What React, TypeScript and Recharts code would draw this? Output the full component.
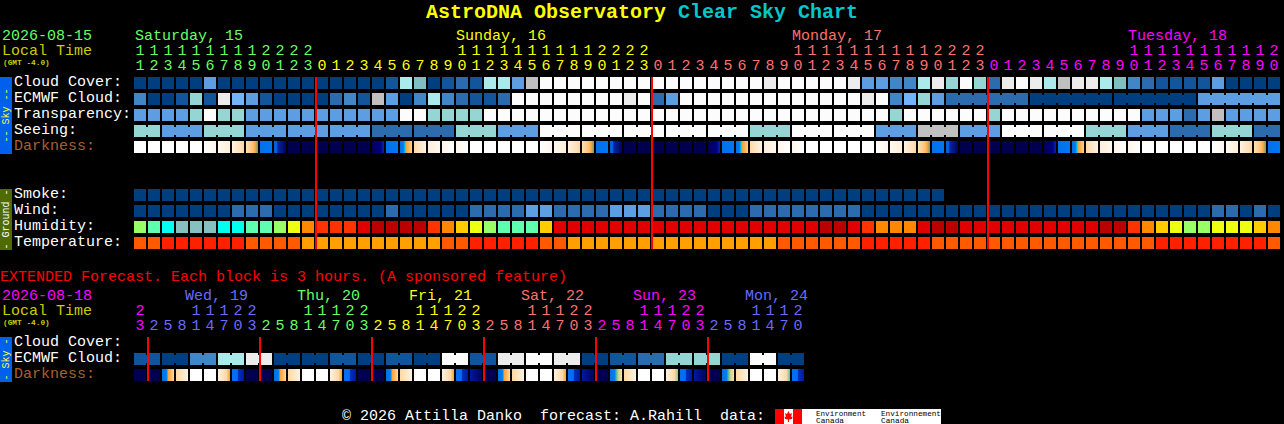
import { BarChart, Bar, XAxis, YAxis, ReferenceLine } from 'recharts'

const FONT = '"Liberation Mono", monospace'

const DAY = {
  green: '#66ff66',
  yellow: '#ffff00',
  salmon: '#ff7070',
  magenta: '#ff00ff',
  blue: '#6a6aff',
}

// ---- hourly block ----
const hourLabels = [
  11, 12, 13, 14, 15, 16, 17, 18, 19, 20, 21, 22, 23,
  0, 1, 2, 3, 4, 5, 6, 7, 8, 9, 10, 11, 12, 13, 14, 15, 16, 17, 18, 19, 20, 21, 22, 23,
  0, 1, 2, 3, 4, 5, 6, 7, 8, 9, 10, 11, 12, 13, 14, 15, 16, 17, 18, 19, 20, 21, 22, 23,
  0, 1, 2, 3, 4, 5, 6, 7, 8, 9, 10, 11, 12, 13, 14, 15, 16, 17, 18, 19, 20,
]
const hourDayStarts = [0, 13, 37, 61]
const hourDayColors = [DAY.green, DAY.yellow, DAY.salmon, DAY.magenta]
const midnightCols = [13, 37, 61]

// sky levels index SKY_COLORS
const cloudCover = [
  0, 0, 0, 0, 0, 4, 0, 0, 0, 0, 0, 0, 0, 0, 0, 0, 0, 0, 1, 8, 6, 0, 1, 2, 1, 8, 8, 4, 9,
  11, 11, 11, 11, 11, 11, 11, 11, 11, 11, 11, 11, 11, 11, 11, 11, 10, 11, 11, 11, 11, 11, 10,
  4, 4, 3, 3, 8, 10, 7, 11, 7, 2, 10, 11, 10, 8, 9, 10, 10, 8, 6, 3, 2, 1, 1, 1, 1, 4, 0, 0, 0, 0,
]
const ecmwfCloud = [
  3, 0, 0, 1, 7, 1, 10, 5, 4, 1, 0, 0, 0, 0, 2, 3, 1, 9, 4, 0, 3, 8, 3, 2, 1, 1, 2,
  11, 11, 11, 11, 11, 11, 11, 11, 10, 11, 2, 4,
  11, 11, 11, 11, 11, 11, 11, 11, 11, 11, 11, 11, 11, 10, 11, 3, 5, 7, 4,
  2, 2, 2, 2, 2, 2, 0, 0, 0, 0, 0, 0, 0, 0, 0, 0, 0, 0, 4, 4, 4, 4, 4, 4,
]
const transparency = [
  4, 4, 4, 4, 7, 11, 7, 7, 4, 4, 4, 4, 4, 4, 4, 4, 4, 4, 4, 11, 11, 7, 7, 7, 7,
  11, 11, 11, 11, 11, 11, 11, 11, 11, 11, 11, 11, 11, 11, 11, 11, 11, 11, 11, 11, 11, 11, 11, 11, 11, 11, 11, 11, 11,
  7, 11, 11, 11, 11, 11, 11, 7, 11, 11, 11, 11, 11, 11, 11, 11, 11, 11, 4, 4, 4, 2, 4, 9, 4, 4, 4, 4,
]
const seeing = [
  7, 7, 4, 4, 4, 7, 7, 7, 4, 4, 4, 4, 4, 4, 4, 4, 4, 2, 2, 2, 2, 2, 2, 7, 7, 7, 4, 4, 4,
  11, 11, 11, 11, 11, 11, 11, 11, 11, 11, 11, 11, 11, 11, 11, 7, 7, 7, 11, 11, 11, 11, 11, 11,
  4, 4, 4, 9, 9, 9, 4, 4, 4, 11, 11, 11, 11, 11, 11, 7, 7, 7, 4, 4, 4, 2, 2, 2, 7, 7, 7, 2, 2,
]
const darkness = [
  'W', 'W', 'W', 'W', 'W', 'up1', 'up2', 'up3', 'dusk', 'blue', 'blueNavy', 'navy', 'navy', 'navy', 'navy', 'navy', 'navy',
  'navyBlue', 'blue', 'dawn', 'dn3', 'dn2', 'dn1', 'dn1', 'W', 'W', 'W', 'W', 'W', 'up1', 'up2', 'up3', 'dusk', 'blue',
  'blueNavy', 'navy', 'navy', 'navy', 'navy', 'navy', 'navy', 'navyBlue', 'blue', 'dawn', 'dn3', 'dn2', 'dn1', 'dn1',
  'W', 'W', 'W', 'W', 'W', 'up1', 'up2', 'up3', 'dusk', 'blue', 'blueNavy', 'navy', 'navy', 'navy', 'navy', 'navy', 'navy',
  'navyBlue', 'blue', 'dawn', 'dn3', 'dn2', 'dn1', 'dn1', 'W', 'W', 'W', 'W', 'W', 'up1', 'up2', 'up3', 'dusk', 'blue',
]
const smoke = [
  0, 0, 0, 0, 0, 0, 0, 0, 0, 0, 0, 0, 0, 0, 0, 0, 0, 0, 0, 0, 0, 0, 0, 0, 0, 0, 0, 0, 0,
  0, 0, 0, 0, 0, 0, 0, 0, 0, 0, 0, 0, 0, 0, 0, 0, 0, 0, 0, 0, 0, 0, 0, 0, 0, 0, 0, 0, 0,
]
const wind = [
  0, 0, 0, 0, 0, 0, 0, 2, 2, 2, 0, 0, 0, 0, 0, 0, 0, 0, 2, 0, 0, 0, 0, 0, 2, 2, 2, 2, 4, 4,
  2, 2, 2, 2, 4, 4, 4, 2, 2, 2, 2, 0, 0, 0, 2, 2, 2, 2, 2, 2, 2, 2,
  0, 0, 0, 0, 0, 0, 0, 0, 0, 0, 0, 0, 0, 0, 0, 0, 0, 0, 0, 0, 0, 0, 0, 0, 0, 2, 2, 0, 2, 0,
]
const humidity = [
  3, 2, 1, 0, 0, 0, 1, 1, 2, 2, 3, 4, 6, 7, 7, 7, 8, 9, 9, 9, 9, 7, 6, 5, 4, 3, 2, 2, 2, 5,
  8, 8, 8, 8, 8, 8, 8, 8, 8, 8, 8, 8, 8, 8, 8, 8, 8, 8, 8, 9, 9, 8, 7, 6, 6, 6, 8, 9, 9,
  8, 8, 8, 8, 8, 8, 8, 8, 8, 8, 9, 9, 7, 6, 5, 4, 3, 3, 4, 4, 4, 5, 6,
]
const temperature = [
  1, 1, 2, 2, 2, 2, 2, 2, 1, 1, 1, 1, 0, 0, 0, 0, 0, 0, 0, 0, 0, 0, 1, 1, 2, 2, 2, 2, 2, 1, 1,
  0, 0, 0, 0, 0, 0, 0, 0, 0, 0, 0, 0, 0, 0, 0, 1, 1, 1, 1, 1, 1, 2, 2, 2, 2, 2,
  1, 1, 1, 1, 1, 1, 1, 1, 1, 1, 1, 1, 1, 1, 1, 1, 2, 2, 2, 2, 2, 2, 2, 2, 1,
]

// ---- extended block (3 hours each) ----
const extHourLabels = [
  23, 2, 5, 8, 11, 14, 17, 20, 23, 2, 5, 8, 11, 14, 17, 20, 23, 2, 5, 8, 11, 14, 17, 20, 23,
  2, 5, 8, 11, 14, 17, 20, 23, 2, 5, 8, 11, 14, 17, 20, 23, 2, 5, 8, 11, 14, 17, 20,
]
const extDayStarts = [0, 1, 9, 17, 25, 33, 41]
const extDayColors = [DAY.magenta, DAY.blue, DAY.green, DAY.yellow, DAY.salmon, DAY.magenta, DAY.blue]
const extMidnightCols = [1, 9, 17, 25, 33, 41]
const extEcmwf = [
  1, 1, 0, 0, 3, 3, 8, 8, 10, 10, 0, 0, 0, 0, 1, 1, 0, 0, 1, 1, 0, 0, 11, 11,
  1, 1, 10, 10, 11, 11, 10, 10, 0, 0, 1, 1, 2, 2, 7, 7, 7, 7, 0, 0, 11, 11, 0, 0,
]
const extDarkness = [
  'navy', 'navy', 'dawn2', 'dn3', 'W', 'W', 'up4', 'blueDeep', 'navy', 'navy', 'dawn2', 'dn3', 'W', 'W', 'up4', 'blueDeep',
  'navy', 'navy', 'dawn2', 'dn3', 'W', 'W', 'up4', 'blueDeep', 'deepNavy', 'navy', 'dawn2', 'dn3', 'W', 'W', 'up4', 'blueDeep',
  'deepNavy', 'navy', 'dawnGreen', 'dn3', 'W', 'W', 'upGreen', 'blueDeep', 'deepNavy', 'navy', 'dawnGreen', 'dn3', 'W', 'W', 'upTeal', 'blueDeep',
]

// ---- day headers ----
const hourDayNames = ['Saturday, 15', 'Sunday, 16', 'Monday, 17', 'Tuesday, 18']
const hourDayX = [135, 456, 792, 1128]
const hourDayNameColors = [DAY.green, DAY.yellow, DAY.salmon, DAY.magenta]
const extDayNames = ['Wed, 19', 'Thu, 20', 'Fri, 21', 'Sat, 22', 'Sun, 23', 'Mon, 24']
const extDayX = [185, 297, 409, 521, 633, 745]
const extDayNameColors = [DAY.blue, DAY.green, DAY.yellow, DAY.salmon, DAY.magenta, DAY.blue]

// ---- colour scales ----
const SKY_COLORS = [
  '#003f7f', '#13559a', '#2c6cae', '#4186c6', '#5d9de2', '#72b4fa',
  '#7fbfbf', '#95d6d5', '#aaeaea', '#c0c0c0', '#ececec', '#fcfcfc',
]
const HUMIDITY_COLORS = [
  '#86c0c0', '#00ffee', '#5fffb0', '#99ff66', '#eeff11', '#ffcc00', '#ff8800', '#ff3300', '#e00000', '#bb0000',
]
const TEMPERATURE_COLORS = ['#ffa000', '#ff5a00', '#ff2000']

const DARK_STOPS: Record<string, [number, string][]> = {
  W: [[0, '#ffffff'], [1, '#ffffff']],
  up1: [[0, '#ffffff'], [1, '#fff6ea']],
  up2: [[0, '#fff8ee'], [1, '#ffeeda']],
  up3: [[0, '#fff2e2'], [1, '#ffd8a8']],
  up4: [[0, '#fff2e2'], [0.7, '#ffd8a8'], [1, '#ffa030']],
  upGreen: [[0, '#fff2e2'], [0.7, '#ffd8a8'], [1, '#88c888']],
  upTeal: [[0, '#fff2e2'], [0.7, '#ffd8a8'], [1, '#40d0b0']],
  dusk: [[0, '#ffe0b8'], [0.6, '#ffc070'], [0.8, '#ffa030'], [1, '#30b0a8']],
  blue: [[0, '#0070e8'], [1, '#0078f0']],
  blueNavy: [[0, '#0060e0'], [0.25, '#0060e0'], [0.3, '#0028a8'], [1, '#000060']],
  blueDeep: [[0, '#0070f0'], [0.45, '#0070f0'], [0.5, '#0030c0'], [1, '#0018a0']],
  deepNavy: [[0, '#0018a0'], [1, '#000060']],
  navy: [[0, '#00004f'], [1, '#00004f']],
  navyBlue: [[0, '#000058'], [0.7, '#000080'], [1, '#0028b0']],
  dawn: [[0, '#0070e8'], [0.3, '#0080f0'], [0.45, '#00d8ff'], [0.55, '#ffa030'], [1, '#ffd090']],
  dawn2: [[0, '#0070e8'], [0.4, '#0080f0'], [0.5, '#ffa030'], [1, '#ffd8a8']],
  dawnGreen: [[0, '#0070e8'], [0.4, '#0080f0'], [0.5, '#40b0a0'], [0.7, '#c8d090'], [1, '#ffe0b8']],
  dn3: [[0, '#ffd8a8'], [1, '#fff2e2']],
  dn2: [[0, '#ffeeda'], [1, '#fff8ee']],
  dn1: [[0, '#fff6ea'], [1, '#ffffff']],
}

type Row = {
  key: string
  label?: string
  labelColor?: string
  levels?: (number | string)[]
  colorOf?: (v: any) => string
  span?: number
  blockStart?: number
  blockSize?: number
}

const skyColor = (v: number) => SKY_COLORS[v]
const darkColor = (v: string) => `url(#dark-${v})`
const WHITE = '#ffffff'
const BROWN = '#a8602c'

const hourRows: Row[] = [
  { key: 'cloud', label: 'Cloud Cover:', levels: cloudCover, colorOf: skyColor },
  { key: 'ecmwf', label: 'ECMWF Cloud:', levels: ecmwfCloud, colorOf: skyColor, blockStart: 58, blockSize: 6 },
  { key: 'transparency', label: 'Transparency:', levels: transparency, colorOf: skyColor },
  { key: 'seeing', label: 'Seeing:', levels: seeing, colorOf: skyColor, blockStart: -1, blockSize: 3 },
  { key: 'darkness', label: 'Darkness:', labelColor: BROWN, levels: darkness, colorOf: darkColor },
  { key: 'gap', span: 2 },
  { key: 'smoke', label: 'Smoke:', levels: smoke, colorOf: skyColor },
  { key: 'wind', label: 'Wind:', levels: wind, colorOf: skyColor },
  { key: 'humidity', label: 'Humidity:', levels: humidity, colorOf: (v: number) => HUMIDITY_COLORS[v] },
  { key: 'temperature', label: 'Temperature:', levels: temperature, colorOf: (v: number) => TEMPERATURE_COLORS[v] },
]

const extRows: Row[] = [
  { key: 'cloud', label: 'Cloud Cover:' },
  { key: 'ecmwf', label: 'ECMWF Cloud:', levels: extEcmwf, colorOf: skyColor, blockStart: 0, blockSize: 2 },
  { key: 'darkness', label: 'Darkness:', labelColor: BROWN, levels: extDarkness, colorOf: darkColor },
]

function buildTable(hours: number[], rows: Row[]) {
  return hours.map((hour, col) => {
    const entry: Record<string, number> = { col, hour }
    rows.forEach((r) => {
      entry[r.key] = r.span ?? 1
    })
    return entry
  })
}

// true when a cell joins the next one inside a multi-hour forecast block
function joinsNext(row: Row, i: number) {
  if (row.blockSize === undefined || row.blockStart === undefined) return false
  if (i < row.blockStart || !row.levels || i + 1 >= row.levels.length) return false
  return (i + 1 - row.blockStart) % row.blockSize !== 0
}

// band start is one pixel left of the cell, the red mark sits on the cell's first pixel
const midnightLine = (p: any) => (
  <line x1={p.x1 + 1} x2={p.x2 + 1} y1={p.y1} y2={p.y2} stroke="#ff0000" strokeWidth={2} />
)

function ForecastBlock(props: {
  top: number
  plotTop: number
  hours: number[]
  dayStarts: number[]
  dayColors: string[]
  rows: Row[]
  midnights: number[]
  lineRows: number
}) {
  const { top, plotTop, hours, dayStarts, dayColors, rows, midnights, lineRows } = props
  const PITCH = 14
  const ROW = 16
  const AXIS_H = 50
  const plotW = hours.length * PITCH
  const total = rows.reduce((s, r) => s + (r.span ?? 1), 0)
  const table = buildTable(hours, rows)

  const rowTops: number[] = []
  let acc = 0
  rows.forEach((r) => {
    rowTops.push(acc)
    acc += r.span ?? 1
  })

  const dayColor = (i: number) => {
    let c = dayColors[0]
    dayStarts.forEach((s, k) => {
      if (i >= s) c = dayColors[k]
    })
    return c
  }

  const hourTick = (p: any) => {
    const h = hours[p.payload.value]
    const fill = dayColor(p.payload.value)
    return (
      <g fontFamily={FONT} fontSize={15} fill={fill} textAnchor="middle">
        {h >= 10 && (
          <text x={p.x} y={plotTop - 22}>
            {Math.floor(h / 10)}
          </text>
        )}
        <text x={p.x} y={plotTop - 7}>
          {h % 10}
        </text>
      </g>
    )
  }

  const rowTick = (p: any) => {
    const row = rows[rowTops.indexOf(p.payload.value)]
    if (!row || !row.label) return <g />
    return (
      <text x={14} y={p.y + 9} fontFamily={FONT} fontSize={15} fill={row.labelColor ?? WHITE}>
        {row.label}
      </text>
    )
  }

  const cellShape = (row: Row) => (p: any) => {
    const level = row.levels?.[p.index]
    if (level === undefined) return <g />
    const fill = row.colorOf!(level)
    const y = Math.min(p.y, p.y + p.height)
    return (
      <g>
        <rect x={p.x} y={y} width={12} height={12} fill={fill} />
        {joinsNext(row, p.index) && <rect x={p.x + 12} y={y + 2} width={2} height={8} fill={fill} />}
      </g>
    )
  }

  return (
    <div style={{ position: 'absolute', left: 0, top }}>
      <BarChart
        width={1284}
        height={plotTop + total * ROW}
        data={table}
        barSize={12}
        margin={{ top: plotTop - AXIS_H, right: 1284 - 133 - plotW, bottom: 0, left: 0 }}
      >
        <XAxis
          dataKey="col"
          orientation="top"
          height={AXIS_H}
          interval={0}
          axisLine={false}
          tickLine={false}
          tick={hourTick}
        />
        <YAxis
          type="number"
          domain={[0, total]}
          reversed
          width={133}
          ticks={rowTops}
          interval={0}
          axisLine={false}
          tickLine={false}
          tick={rowTick}
        />
        {rows.map((r) => (
          <Bar key={r.key} dataKey={r.key} stackId="rows" isAnimationActive={false} shape={cellShape(r)} />
        ))}
        {midnights.map((m) => (
          <ReferenceLine
            key={m}
            position="start"
            segment={[
              { x: m, y: 0 },
              { x: m, y: lineRows },
            ]}
            shape={midnightLine}
          />
        ))}
      </BarChart>
    </div>
  )
}

function SideTab({ y, h, fill, color, text }: { y: number; h: number; fill: string; color: string; text: string }) {
  const cy = y + h / 2
  return (
    <g>
      <rect x={0} y={y} width={12} height={h} fill={fill} />
      <text
        x={6}
        y={cy}
        fontFamily={FONT}
        fontSize={10}
        fill={color}
        textAnchor="middle"
        dominantBaseline="central"
        transform={`rotate(-90 6 ${cy})`}
        style={{ whiteSpace: 'pre' }}
      >
        {text}
      </text>
    </g>
  )
}

function Backdrop() {
  const t = { fontFamily: FONT, fontSize: 15, style: { whiteSpace: 'pre' as const } }
  return (
    <svg width={1284} height={424} style={{ position: 'absolute', left: 0, top: 0 }}>
      <defs>
        {Object.entries(DARK_STOPS).map(([code, stops]) => (
          <linearGradient key={code} id={`dark-${code}`} x1="0" x2="1" y1="0" y2="0">
            {stops.map(([o, c], i) => (
              <stop key={i} offset={o} stopColor={c} />
            ))}
          </linearGradient>
        ))}
      </defs>

      <text x={426} y={18} fontFamily={FONT} fontSize={20} fontWeight="bold" style={{ whiteSpace: 'pre' }}>
        <tspan fill="#ffff00">AstroDNA Observatory </tspan>
        <tspan fill="#00c8c8">Clear Sky Chart</tspan>
      </text>

      <text {...t} x={2} y={40} fill={DAY.green}>2026-08-15</text>
      <text {...t} x={2} y={55} fill="#cccc00">Local Time</text>
      <text x={3} y={65} fontFamily={FONT} fontSize={7.8} fontWeight="bold" fill="#cccc00">(GMT -4.0)</text>
      {hourDayNames.map((d, i) => (
        <text key={d} {...t} x={hourDayX[i]} y={40} fill={hourDayNameColors[i]}>{d}</text>
      ))}

      <SideTab y={77} h={77} fill="#0060ee" color="#ffff33" text="-- Sky --" />
      <SideTab y={189} h={61} fill="#4f6b00" color="#ffffff" text="- Ground -" />

      <text {...t} x={0} y={281} fill="#ff0000">EXTENDED Forecast. Each block is 3 hours. (A sponsored feature)</text>
      <text {...t} x={2} y={300} fill={DAY.magenta}>2026-08-18</text>
      <text {...t} x={2} y={315} fill="#cccc00">Local Time</text>
      <text x={3} y={325} fontFamily={FONT} fontSize={7.8} fontWeight="bold" fill="#cccc00">(GMT -4.0)</text>
      {extDayNames.map((d, i) => (
        <text key={d} {...t} x={extDayX[i]} y={300} fill={extDayNameColors[i]}>{d}</text>
      ))}
      <SideTab y={337} h={45} fill="#0060ee" color="#ffff33" text="- Sky -" />

      <text {...t} x={342} y={420} fill="#ffffff">{'© 2026 Attilla Danko  forecast: A.Rahill  data:'}</text>
      <rect x={775} y={409} width={166} height={15} fill="#ffffff" />
      <rect x={775} y={409} width={9} height={15} fill="#ff0000" />
      <rect x={793} y={409} width={9} height={15} fill="#ff0000" />
      <polygon
        points="788.5,411 790,414 792,413 791,417 792.5,416.5 792,419 789,419.5 789,422 788,422 788,419.5 785,419 784.5,416.5 786,417 785,413 787,414"
        fill="#ff0000"
      />
      <g fontFamily={FONT} fontSize={8} fill="#000000">
        <text x={816} y={416} textLength={50} lengthAdjust="spacingAndGlyphs">Environment</text>
        <text x={816} y={423} textLength={28} lengthAdjust="spacingAndGlyphs">Canada</text>
        <text x={881} y={416} textLength={60} lengthAdjust="spacingAndGlyphs">Environnement</text>
        <text x={881} y={423} textLength={28} lengthAdjust="spacingAndGlyphs">Canada</text>
      </g>
    </svg>
  )
}

export default function App() {
  return (
    <div style={{ position: 'fixed', left: 0, top: 0, width: 1284, height: 424, background: '#000000', overflow: 'hidden' }}>
      <Backdrop />
      <ForecastBlock
        top={0}
        plotTop={77}
        hours={hourLabels}
        dayStarts={hourDayStarts}
        dayColors={hourDayColors}
        rows={hourRows}
        midnights={midnightCols}
        lineRows={10.75}
      />
      <ForecastBlock
        top={287}
        plotTop={50}
        hours={extHourLabels}
        dayStarts={extDayStarts}
        dayColors={extDayColors}
        rows={extRows}
        midnights={extMidnightCols}
        lineRows={2.75}
      />
    </div>
  )
}
